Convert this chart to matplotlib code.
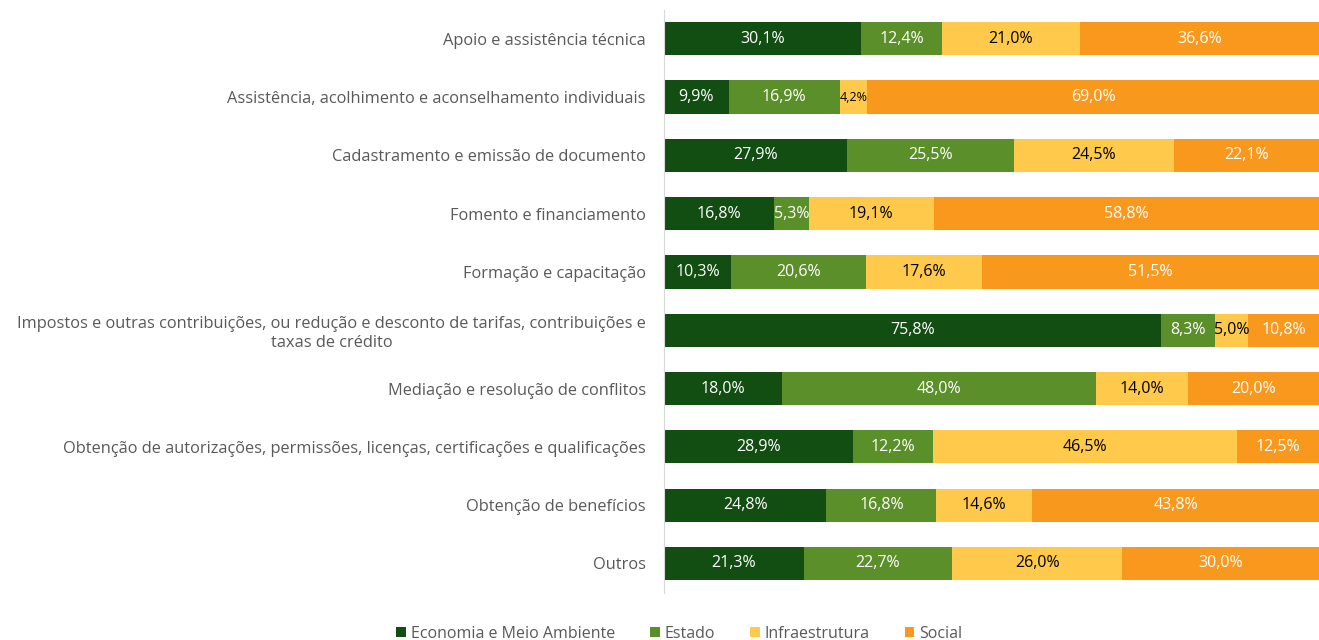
import matplotlib.pyplot as plt
import numpy as np

categories = [
    "Apoio e assistência técnica",
    "Assistência, acolhimento e aconselhamento individuais",
    "Cadastramento e emissão de documento",
    "Fomento e financiamento",
    "Formação e capacitação",
    "Impostos e outras contribuições, ou redução e desconto de tarifas, contribuições e\ntaxas de crédito",
    "Mediação e resolução de conflitos",
    "Obtenção de autorizações, permissões, licenças, certificações e qualificações",
    "Obtenção de benefícios",
    "Outros",
]
economia = [30.1, 9.9, 27.9, 16.8, 10.3, 75.8, 18.0, 28.9, 24.8, 21.3]
estado = [12.4, 16.9, 25.5, 5.3, 20.6, 8.3, 48.0, 12.2, 16.8, 22.7]
infra = [21.0, 4.2, 24.5, 19.1, 17.6, 5.0, 14.0, 46.5, 14.6, 26.0]
social = [36.6, 69.0, 22.1, 58.8, 51.5, 10.8, 20.0, 12.5, 43.8, 30.0]

series = [
    ("Economia e Meio Ambiente", economia, "#124e12", "white"),
    ("Estado", estado, "#5b8f29", "white"),
    ("Infraestrutura", infra, "#ffca4b", "black"),
    ("Social", social, "#f8991d", "white"),
]

plt.rcParams['font.family'] = ['Open Sans', 'DejaVu Sans']

fig = plt.figure(figsize=(13.19, 6.4), dpi=100)
ax = fig.add_axes([0.5034, 0.074, 0.4966, 0.911])

y = np.arange(len(categories))
left = np.zeros(len(categories))
totals = np.array(economia) + np.array(estado) + np.array(infra) + np.array(social)
for name, vals, color, tcolor in series:
    vals = np.array(vals)
    # normalise each row to 100%
    widths = vals / totals * 100
    ax.barh(y, widths, left=left, height=0.57, color=color, label=name)
    for yi, l, w, v in zip(y, left, widths, vals):
        txt = f"{v:.1f}%".replace(".", ",")
        fs = 9 if v < 4.5 else 11.5
        ax.text(l + w / 2, yi, txt, ha="center", va="center", color=tcolor, fontsize=fs)
    left += widths

ax.set_xlim(0, 100)
ax.set_ylim(len(categories) - 0.5, -0.5)
ax.set_yticks(y)
ax.set_yticklabels(categories, fontsize=11.8, color="#595959", multialignment="center")
ax.tick_params(axis="y", length=0, pad=13)
ax.set_xticks([])
for s in ["top", "right", "bottom"]:
    ax.spines[s].set_visible(False)
ax.spines["left"].set_color("#d9d9d9")

leg = fig.legend(loc="lower center", bbox_to_anchor=(0.515, -0.025), ncol=4, frameon=False,
                 fontsize=11.5, handlelength=0.6, handleheight=0.6, handletextpad=0.3,
                 columnspacing=2.2)
for t in leg.get_texts():
    t.set_color("#595959")

fig.savefig("out.png", dpi=100)
